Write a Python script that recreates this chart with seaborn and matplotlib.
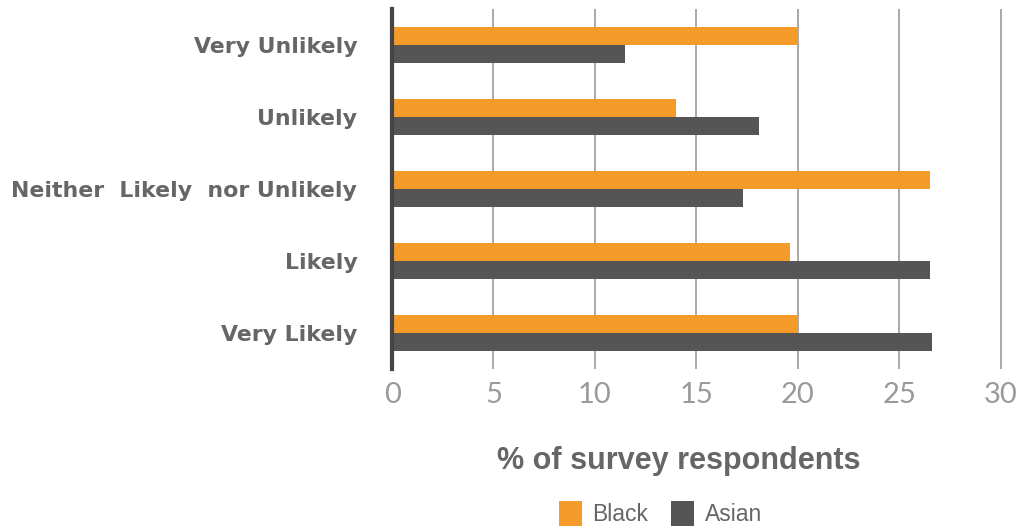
import pandas as pd
import seaborn as sns
import matplotlib.pyplot as plt

# survey data
categories = ['Very Unlikely', 'Unlikely', 'Neither  Likely  nor Unlikely', 'Likely', 'Very Likely']
groups = ['Black', 'Asian']
black_pct = [20.0, 14.0, 26.5, 19.6, 20.0]
asian_pct = [11.5, 18.1, 17.3, 26.5, 26.6]
x_ticks = [0, 5, 10, 15, 20, 25, 30]

colors = {'Black': '#F49B2A', 'Asian': '#555555'}


def main():
    df = pd.DataFrame({
        'Response': categories * 2,
        'Group': [groups[0]] * len(categories) + [groups[1]] * len(categories),
        'Pct': black_pct + asian_pct,
    })

    sns.set_style('white')
    plt.rcParams['font.family'] = ['Liberation Sans', 'DejaVu Sans']

    fig = plt.figure(figsize=(10.21, 5.28), dpi=100)
    ax = fig.add_axes([0.384, 0.301, 0.602, 0.682])

    sns.barplot(data=df, x='Pct', y='Response', hue='Group', orient='h',
                palette=colors, width=0.5, saturation=1, linewidth=0,
                ax=ax, legend=True)

    ax.set_xlim(0, 30.3)
    ax.set_ylim(4.5, -0.5)
    ax.set_xticks(x_ticks)
    ax.set_xticklabels([str(t) for t in x_ticks], fontsize=21,
                       color='#9a9a9a', family=['Lato', 'DejaVu Sans'])
    ax.tick_params(axis='x', length=0, pad=9)
    ax.tick_params(axis='y', length=0, pad=25)
    for lbl in ax.get_yticklabels():
        lbl.set_fontsize(15.8)
        lbl.set_fontweight('bold')
        lbl.set_color('#666666')
        lbl.set_family(['DejaVu Sans'])
        lbl.set_va('center_baseline')

    ax.xaxis.grid(True, color='#999999', linewidth=1.2)
    ax.set_axisbelow(True)
    for side in ['top', 'right', 'bottom']:
        ax.spines[side].set_visible(False)
    ax.spines['left'].set_color('#444444')
    ax.spines['left'].set_linewidth(3)

    ax.set_ylabel('')
    ax.set_xlabel('% of survey respondents', fontsize=22, fontweight='bold',
                  color='#666666')
    ax.xaxis.set_label_coords(0.466, -0.215)

    handles, labels = ax.get_legend_handles_labels()
    ax.get_legend().remove()
    fig.legend(handles, labels, loc='lower center', bbox_to_anchor=(0.647, -0.036),
               ncol=2, frameon=False, fontsize=16.5, labelcolor='#666666',
               handlelength=1.0, handleheight=1.3, handletextpad=0.45, columnspacing=1.0)

    fig.savefig('out.png', dpi=100)


if __name__ == '__main__':
    main()
